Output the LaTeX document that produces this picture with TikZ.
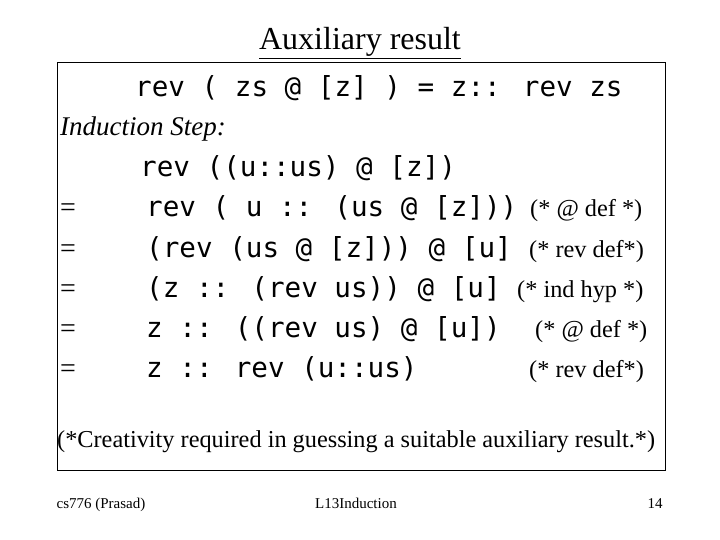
\documentclass[tikz,border=0pt]{standalone}
\usepackage{fontspec}
\setmainfont{Liberation Serif}
\newfontfamily\codefont{DejaVu Sans Mono}
\begin{document}
\begin{tikzpicture}[x=1pt,y=-1pt,
  code/.style={anchor=base west,inner sep=0pt,font=\codefont\fontsize{27.6}{30}\selectfont},
  cmt/.style={anchor=base west,inner sep=0pt,font=\fontsize{24.3}{27}\selectfont},
  eqs/.style={anchor=base west,inner sep=0pt,font=\fontsize{28}{30}\selectfont},
  foot/.style={anchor=base,inner sep=0pt,font=\fontsize{15}{17}\selectfont}]
\useasboundingbox (0,0) rectangle (720,540);
\node[anchor=base,inner sep=0pt,font=\fontsize{32}{36}\selectfont] (title) at (360,50) {\underline{Auxiliary result}};
\draw[line width=0.8pt] (57,62) rectangle (665,470);
\node[code] (l0) at (135,97) {rev ( zs @ [z] ) = z:: rev zs};
\node[anchor=base west,inner sep=0pt,font=\itshape\fontsize{27}{30}\selectfont] (ind) at (60,136) {Induction Step:};
\node[code] (l1) at (140,177) {rev ((u::us) @ [z])};
\foreach \y/\t/\c/\cx [count=\i] in {
  217/{rev ( u :: (us @ [z]))}/{(* @ def *)}/530,
  257/{(rev (us @ [z])) @ [u]}/{(* rev def*)}/529,
  297/{(z :: (rev us)) @ [u]}/{(* ind hyp *)}/517,
  337/{z :: ((rev us) @ [u])}/{(* @ def *)}/535,
  377/{z :: rev (u::us)}/{(* rev def*)}/529} {
  \node[eqs] (e\i) at (60,\y) {=};
  \node[code] (s\i) at (146,\y) {\t};
  \node[cmt] (c\i) at (\cx,\y) {\c};
}
\node[anchor=base west,inner sep=0pt,font=\fontsize{24.3}{27}\selectfont] (note) at (57,447) {(*Creativity required in guessing a suitable auxiliary result.*)};
\node[foot] (f1) at (101,508) {cs776 (Prasad)};
\node[foot] (f2) at (356,508) {L13Induction};
\node[foot] (f3) at (655,508) {14};
\end{tikzpicture}
\end{document}
